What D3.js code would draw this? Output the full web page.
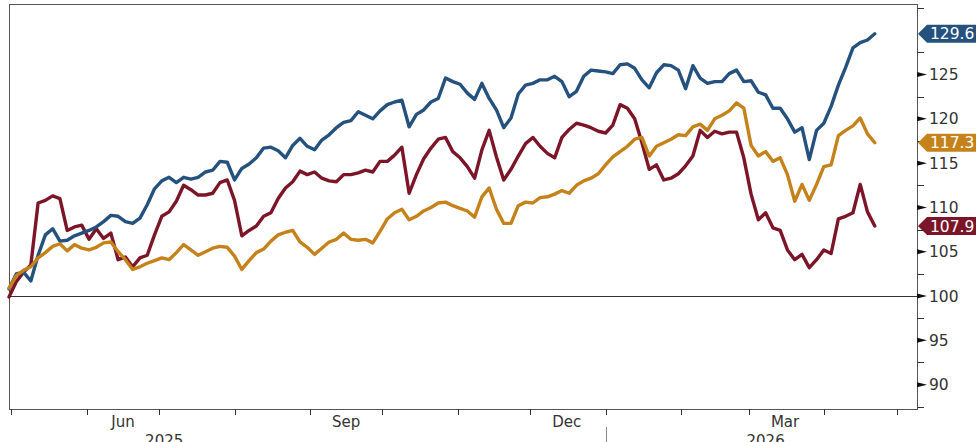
<!DOCTYPE html>
<html>
<head>
<meta charset="utf-8">
<script src="https://cdn.jsdelivr.net/npm/d3@7"></script>
<style>
  html, body { margin: 0; padding: 0; background: #fff; overflow: hidden; }
  svg { display: block; }
</style>
</head>
<body>
<div id="chart"></div>
<script>
// sample dates: every 3 days from 30 Apr 2025
var dates = d3.timeDay.range(new Date(2025, 3, 30), new Date(2026, 3, 24), 3);

// index levels (start = 100)
var blueVals = [100.8, 102.5, 102.7, 101.7, 104.6, 106.9, 107.6, 106.2, 106.3, 106.8,
  107.1, 107.4, 107.8, 108.4, 109.1, 109.0, 108.4, 108.2, 108.8, 110.3,
  112.1, 113.0, 113.4, 112.8, 113.4, 113.2, 113.4, 114.0, 114.2, 115.2,
  115.1, 113.1, 114.4, 114.9, 115.6, 116.7, 116.8, 116.4, 115.6, 117.0,
  117.8, 116.9, 116.5, 117.6, 118.2, 119.0, 119.6, 119.8, 120.8, 120.4,
  120.0, 120.9, 121.6, 121.9, 122.1, 119.1, 120.5, 121.0, 121.9, 122.3,
  124.6, 124.2, 123.9, 122.9, 122.2, 124.0, 122.3, 121.0, 119.0, 120.1,
  122.8, 123.8, 124.0, 124.4, 124.4, 124.8, 124.2, 122.5, 123.1, 124.8,
  125.5, 125.4, 125.3, 125.1, 126.1, 126.2, 125.7, 124.4, 123.5, 125.2,
  126.1, 126.0, 125.5, 123.4, 126.0, 124.6, 124.0, 124.2, 124.2, 125.1,
  125.5, 124.2, 124.3, 123.0, 122.7, 121.2, 121.2, 120.0, 118.5, 119.0,
  115.4, 118.7, 119.5, 121.4, 123.8, 125.8, 128.0, 128.6, 128.9, 129.6];

var redVals = [99.9, 101.6, 102.7, 103.5, 110.5, 110.8, 111.3, 111.0, 107.4, 107.8,
  108.0, 106.4, 107.6, 106.5, 107.1, 104.1, 104.4, 103.3, 104.3, 104.6,
  106.9, 109.0, 109.5, 110.7, 112.5, 112.0, 111.4, 111.4, 111.6, 112.8,
  113.1, 110.8, 106.8, 107.4, 107.9, 109.0, 109.4, 111.0, 112.2, 112.9,
  114.1, 113.7, 114.0, 113.3, 113.0, 112.9, 113.7, 113.7, 113.9, 114.2,
  114.0, 115.2, 115.2, 115.9, 116.8, 111.6, 113.7, 115.5, 116.7, 117.7,
  117.9, 116.3, 115.6, 114.6, 113.3, 116.5, 118.7, 115.7, 113.1, 114.3,
  115.8, 117.2, 117.9, 116.9, 116.1, 115.6, 117.9, 118.8, 119.5, 119.3,
  119.0, 118.6, 118.4, 119.3, 121.6, 121.2, 120.0, 117.3, 114.3, 114.8,
  113.1, 113.3, 113.8, 114.7, 115.8, 118.7, 117.9, 118.6, 118.3, 118.5,
  118.5, 115.6, 111.5, 108.6, 109.4, 107.7, 107.4, 105.2, 104.1, 104.7,
  103.2, 104.1, 105.2, 104.8, 108.7, 109.0, 109.4, 112.6, 109.5, 107.9];

var goldVals = [100.9, 102.3, 102.9, 103.3, 104.3, 104.9, 105.6, 105.9, 105.1, 105.8,
  105.4, 105.2, 105.5, 106.0, 106.1, 105.0, 104.1, 103.0, 103.3, 103.7,
  104.0, 104.3, 104.1, 104.9, 105.8, 105.2, 104.6, 105.0, 105.4, 105.6,
  105.5, 104.5, 103.0, 104.0, 104.9, 105.3, 106.2, 106.9, 107.2, 107.4,
  106.1, 105.5, 104.7, 105.4, 106.1, 106.4, 107.1, 106.4, 106.3, 106.4,
  106.0, 107.3, 108.7, 109.4, 109.8, 108.6, 109.0, 109.6, 110.0, 110.5,
  110.6, 110.2, 109.9, 109.6, 108.9, 111.2, 112.2, 109.8, 108.2, 108.2,
  110.2, 110.6, 110.5, 111.1, 111.2, 111.5, 111.9, 111.6, 112.5, 113.0,
  113.3, 113.8, 114.8, 115.7, 116.3, 116.9, 117.7, 117.9, 115.8, 116.9,
  117.3, 117.7, 118.2, 118.1, 119.1, 119.4, 118.7, 120.0, 120.4, 120.9,
  121.8, 121.2, 117.0, 115.8, 116.3, 115.2, 115.6, 113.7, 110.7, 112.6,
  110.8, 112.6, 114.6, 114.8, 118.1, 118.7, 119.2, 120.1, 118.3, 117.3];

var yTicks = [90, 95, 100, 105, 110, 115, 120, 125];
var yMinor = [87.5, 92.5, 97.5, 102.5, 107.5, 112.5, 117.5, 122.5, 127.5, 132.5];
var monthLabels = ["Jun", "Sep", "Dec", "Mar"];
var monthLabelDates = [new Date(2025, 5, 16), new Date(2025, 8, 16), new Date(2025, 11, 16), new Date(2026, 2, 16)];
var yearLabels = ["2025", "2026"];
var yearLabelDates = [new Date(2025, 6, 3), new Date(2026, 2, 8)];

var W = 976, H = 442;
var plotLeft = 9, plotRight = 917, plotTop = 4, plotBottom = 409;

var svg = d3.select("#chart").append("svg")
  .attr("width", W).attr("height", H);

var x = d3.scaleTime()
  .domain([new Date(2025, 3, 30), new Date(2026, 4, 9, 10)])
  .range([plotLeft, plotRight]);

var y = d3.scaleLinear()
  .domain([87.25, 132.96])
  .range([plotBottom, plotTop]);

var font = "DejaVu Sans, Verdana, sans-serif";

// frame
svg.append("rect")
  .attr("x", plotLeft + 0.5).attr("y", plotTop + 0.5)
  .attr("width", plotRight - plotLeft).attr("height", plotBottom - plotTop)
  .attr("fill", "none").attr("stroke", "#555").attr("stroke-width", 1);

// 100 reference line
svg.append("line")
  .attr("x1", plotLeft).attr("x2", plotRight)
  .attr("y1", Math.round(y(100)) + 0.5).attr("y2", Math.round(y(100)) + 0.5)
  .attr("stroke", "#333").attr("stroke-width", 1);

// right axis: minor ticks
svg.selectAll(".minor").data(yMinor.filter(function(d) { return y(d) > plotTop && y(d) < plotBottom; }))
  .enter().append("line")
  .attr("x1", plotRight).attr("x2", plotRight + 7)
  .attr("y1", function(d) { return Math.round(y(d)) + 0.5; })
  .attr("y2", function(d) { return Math.round(y(d)) + 0.5; })
  .attr("stroke", "#333").attr("stroke-width", 1);

// right axis: major ticks as small pointers
svg.selectAll(".major").data(yTicks)
  .enter().append("path")
  .attr("d", function(d) {
    var yy = y(d);
    return "M" + plotRight + "," + (yy - 2.5) + "L" + (plotRight + 10) + "," + yy + "L" + plotRight + "," + (yy + 2.5) + "Z";
  })
  .attr("fill", "#111");

svg.selectAll(".ylab").data(yTicks)
  .enter().append("text")
  .attr("x", plotRight + 12)
  .attr("y", function(d) { return y(d) + 5.5; })
  .attr("font-family", font).attr("font-size", 15.5)
  .attr("fill", "#333")
  .text(function(d) { return d; });

// bottom axis: month ticks
var monthTicks = d3.timeMonth.range(new Date(2025, 4, 1), new Date(2026, 4, 2));
svg.selectAll(".mtick").data(monthTicks)
  .enter().append("line")
  .attr("x1", function(d) { return Math.round(x(d)) + 0.5; })
  .attr("x2", function(d) { return Math.round(x(d)) + 0.5; })
  .attr("y1", plotBottom).attr("y2", plotBottom + 6)
  .attr("stroke", "#333").attr("stroke-width", 1);

svg.selectAll(".mlab").data(monthLabels)
  .enter().append("text")
  .attr("x", function(d, i) { return x(monthLabelDates[i]); })
  .attr("y", 427)
  .attr("text-anchor", "middle")
  .attr("font-family", font).attr("font-size", 15)
  .attr("fill", "#333")
  .text(function(d) { return d; });

// year separator
var yearStart = new Date(2026, 0, 1);
svg.append("line")
  .attr("x1", Math.round(x(yearStart)) + 0.5).attr("x2", Math.round(x(yearStart)) + 0.5)
  .attr("y1", 427).attr("y2", H)
  .attr("stroke", "#888").attr("stroke-width", 1);

svg.selectAll(".ylab2").data(yearLabels)
  .enter().append("text")
  .attr("x", function(d, i) { return x(yearLabelDates[i]); })
  .attr("y", 446)
  .attr("text-anchor", "middle")
  .attr("font-family", font).attr("font-size", 15)
  .attr("fill", "#333")
  .text(function(d) { return d; });

// lines
var series = [
  { name: "red", values: redVals, color: "#7d1528" },
  { name: "blue", values: blueVals, color: "#24517e" },
  { name: "gold", values: goldVals, color: "#c5821b" }
];

var line = d3.line()
  .x(function(d, i) { return x(dates[i]); })
  .y(function(d) { return y(d); });

svg.selectAll(".series").data(series)
  .enter().append("path")
  .attr("d", function(s) { return line(s.values); })
  .attr("fill", "none")
  .attr("stroke", function(s) { return s.color; })
  .attr("stroke-width", 3.4)
  .attr("stroke-linejoin", "round")
  .attr("stroke-linecap", "round");

// last value flags
var flags = series.map(function(s) {
  return { color: s.color, value: s.values[s.values.length - 1] };
});

var flag = svg.selectAll(".flag").data(flags).enter().append("g");

flag.append("path")
  .attr("d", function(f) {
    var yy = y(f.value);
    return "M" + (plotRight + 1) + "," + yy +
      "L" + (plotRight + 10) + "," + (yy - 9) +
      "L" + W + "," + (yy - 9) +
      "L" + W + "," + (yy + 9) +
      "L" + (plotRight + 10) + "," + (yy + 9) + "Z";
  })
  .attr("fill", function(f) { return f.color; });

flag.append("text")
  .attr("x", plotRight + 13)
  .attr("y", function(f) { return y(f.value) + 5.5; })
  .attr("font-family", font).attr("font-size", 15.5)
  .attr("fill", "#fff")
  .text(function(f) { return f.value.toFixed(1); });
</script>
</body>
</html>
